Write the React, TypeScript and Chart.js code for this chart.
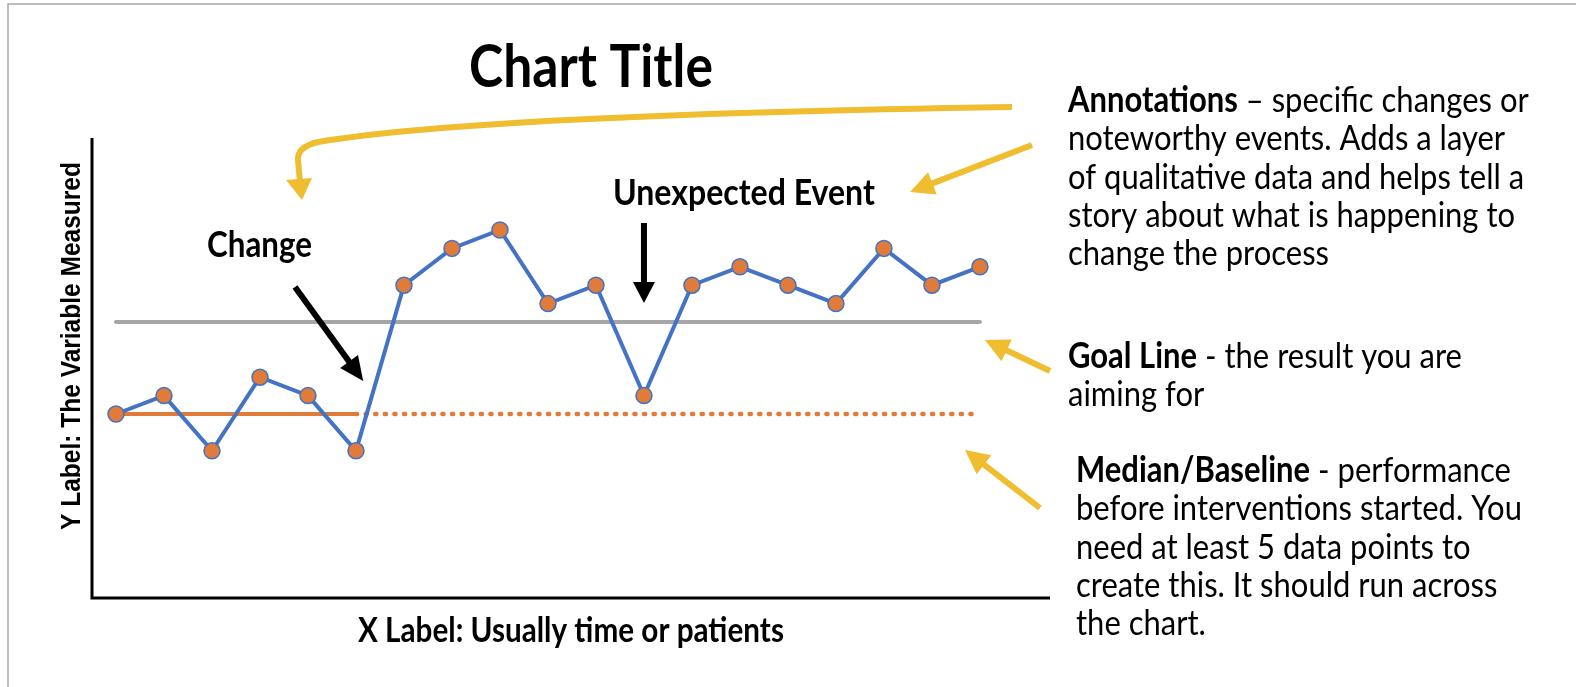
import React, { useEffect, useRef } from "react";
import { Chart, registerables } from "chart.js";

Chart.register(...registerables);

// ---- data ----
const categories = [1, 2, 3, 4, 5, 6, 7, 8, 9, 10, 11, 12, 13, 14, 15, 16, 17, 18, 19];
const measured = [2, 3, 0, 4, 3, 0, 9, 11, 12, 8, 9, 3, 9, 10, 9, 8, 11, 9, 10];
const goalValue = 7;
const baselineValue = 2;
const changeIndex = 5; // baseline solid up to here, projected (dotted) afterwards
const eventIndex = 11; // unexpected event

const chartTitle = "Chart Title";
const xLabel = "X Label: Usually time or patients";
const yLabel = "Y Label: The Variable Measured";
const changeLabel = "Change";
const eventLabel = "Unexpected Event";

type Seg = { t: string; b?: boolean };
const annotationLines: Seg[][] = [
  [{ t: "Annotations", b: true }, { t: " \u2013 specific changes or" }],
  [{ t: "noteworthy events. Adds a layer" }],
  [{ t: "of qualitative data and helps tell a" }],
  [{ t: "story about what is happening to" }],
  [{ t: "change the process" }],
];
const goalLines: Seg[][] = [
  [{ t: "Goal Line", b: true }, { t: " - the result you are" }],
  [{ t: "aiming for" }],
];
const medianLines: Seg[][] = [
  [{ t: "Median/Baseline", b: true }, { t: " - performance" }],
  [{ t: "before interventions started. You" }],
  [{ t: "need at least 5 data points to" }],
  [{ t: "create this. It should run across" }],
  [{ t: "the chart." }],
];

const BLUE = "#4472C4";
const ORANGE = "#E07B39";
const GRAY = "#A6A6A6";
const YELLOW = "#EFBD2F";
const CAL = "Lato, 'Open Sans', sans-serif";
const ARIAL = "'Liberation Sans', Arial, sans-serif";

function fitSize(ctx: CanvasRenderingContext2D, text: string, weight: string, family: string, target: number) {
  ctx.font = `${weight} 100px ${family}`;
  const w = ctx.measureText(text).width;
  return (100 * target) / w;
}

// draw text fitted to a target width, stretched vertically by k (narrower glyphs, like Calibri)
function drawFitted(
  ctx: CanvasRenderingContext2D, text: string, x: number, y: number,
  weight: string, family: string, target: number, k: number, align: CanvasTextAlign
) {
  const size = fitSize(ctx, text, weight, family, target) * k;
  ctx.save();
  ctx.translate(x, y);
  ctx.scale(1 / k, 1);
  ctx.font = `${weight} ${size}px ${family}`;
  ctx.textAlign = align;
  ctx.textBaseline = "alphabetic";
  ctx.fillText(text, 0, 0);
  ctx.restore();
}

function richWidth(ctx: CanvasRenderingContext2D, segs: Seg[], size: number) {
  let w = 0;
  for (const s of segs) {
    ctx.font = `${s.b ? "bold" : "normal"} ${size}px ${CAL}`;
    w += ctx.measureText(s.t).width;
  }
  return w;
}

function drawRich(ctx: CanvasRenderingContext2D, segs: Seg[], x: number, y: number, size: number, k: number) {
  ctx.save();
  ctx.translate(x, y);
  ctx.scale(1 / k, 1);
  let cx = 0;
  ctx.textAlign = "left";
  ctx.textBaseline = "alphabetic";
  for (const s of segs) {
    ctx.font = `${s.b ? "bold" : "normal"} ${size * k}px ${CAL}`;
    ctx.fillText(s.t, cx, 0);
    cx += ctx.measureText(s.t).width;
  }
  ctx.restore();
}

function arrow(
  ctx: CanvasRenderingContext2D,
  x1: number, y1: number, x2: number, y2: number,
  color: string, lw: number, headLen: number, headW: number
) {
  const ang = Math.atan2(y2 - y1, x2 - x1);
  const bx = x2 - Math.cos(ang) * headLen;
  const by = y2 - Math.sin(ang) * headLen;
  ctx.save();
  ctx.strokeStyle = color;
  ctx.fillStyle = color;
  ctx.lineWidth = lw;
  ctx.lineCap = "butt";
  ctx.beginPath();
  ctx.moveTo(x1, y1);
  ctx.lineTo(bx + Math.cos(ang) * 2, by + Math.sin(ang) * 2);
  ctx.stroke();
  const px = -Math.sin(ang) * headW / 2;
  const py = Math.cos(ang) * headW / 2;
  ctx.beginPath();
  ctx.moveTo(x2, y2);
  ctx.lineTo(bx + px, by + py);
  ctx.lineTo(bx - px, by - py);
  ctx.closePath();
  ctx.fill();
  ctx.restore();
}

const decorPlugin = {
  id: "decor",
  beforeDraw(chart: any) {
    const ctx: CanvasRenderingContext2D = chart.ctx;
    ctx.save();
    ctx.fillStyle = "#ffffff";
    ctx.fillRect(0, 0, chart.width, chart.height);
    ctx.strokeStyle = "#A8A8A8";
    ctx.lineWidth = 1.5;
    ctx.beginPath();
    ctx.moveTo(8, chart.height);
    ctx.lineTo(8, 4);
    ctx.lineTo(chart.width, 4);
    ctx.stroke();
    ctx.restore();
  },
  beforeDatasetsDraw(chart: any) {
    const ctx: CanvasRenderingContext2D = chart.ctx;
    const a = chart.chartArea;
    ctx.save();
    ctx.strokeStyle = "#000";
    ctx.lineWidth = 3;
    ctx.beginPath();
    ctx.moveTo(a.left, a.top);
    ctx.lineTo(a.left, a.bottom);
    ctx.lineTo(a.right, a.bottom);
    ctx.stroke();
    ctx.restore();
  },
  afterDraw(chart: any) {
    const ctx: CanvasRenderingContext2D = chart.ctx;
    const xs = chart.scales.x;
    const ys = chart.scales.y;
    ctx.save();
    ctx.fillStyle = "#000";

    // Title
    drawFitted(ctx, chartTitle, 591, 87, "bold", CAL, 244, 1.15, "center");

    // X label
    drawFitted(ctx, xLabel, 358, 642, "bold", CAL, 426, 1.15, "left");

    // Y label (rotated)
    ctx.save();
    ctx.translate(80, 346);
    ctx.rotate(-Math.PI / 2);
    drawFitted(ctx, yLabel, 0, 0, "bold", ARIAL, 368, 1.15, "center");
    ctx.restore();

    // Change label + arrow
    drawFitted(ctx, changeLabel, 207, 257, "bold", CAL, 105, 1.15, "left");
    const chX = xs.getPixelForValue(changeIndex + 0.15);
    arrow(ctx, 295, 287, chX, 381, "#000", 6, 24, 22);

    // Unexpected event label + arrow
    drawFitted(ctx, eventLabel, 613, 205, "bold", CAL, 262, 1.15, "left");
    const evX = xs.getPixelForValue(eventIndex);
    arrow(ctx, evX, 223, evX, 303, "#000", 6, 21, 22);

    // Yellow curved arrow
    ctx.save();
    ctx.strokeStyle = YELLOW;
    ctx.fillStyle = YELLOW;
    ctx.lineWidth = 6;
    ctx.lineCap = "butt";
    ctx.lineJoin = "round";
    ctx.beginPath();
    ctx.moveTo(1012, 107);
    ctx.quadraticCurveTo(480, 115, 318, 142);
    ctx.quadraticCurveTo(297, 147, 298, 160);
    ctx.lineTo(300, 182);
    ctx.stroke();
    ctx.beginPath();
    ctx.moveTo(286, 180);
    ctx.lineTo(312, 178);
    ctx.lineTo(302, 200);
    ctx.closePath();
    ctx.fill();
    ctx.restore();

    // Yellow straight arrows
    arrow(ctx, 1032, 145, 910, 192, YELLOW, 6, 24, 24);
    const goalY = ys.getPixelForValue(goalValue);
    arrow(ctx, 1050, 371, 985, goalY + 18, YELLOW, 6, 24, 24);
    const baseY = ys.getPixelForValue(baselineValue);
    arrow(ctx, 1040, 508, 965, baseY + 36, YELLOW, 6, 24, 24);

    // Right-hand explanations
    ctx.fillStyle = "#000";
    const refW = richWidth(ctx, annotationLines[0], 100);
    const size = (100 * 461) / refW;
    const lh = 38.3;
    const k = 1.15;
    annotationLines.forEach((l, i) => drawRich(ctx, l, 1068, 112 + i * lh, size, k));
    goalLines.forEach((l, i) => drawRich(ctx, l, 1068, 368 + i * lh, size, k));
    medianLines.forEach((l, i) => drawRich(ctx, l, 1076, 482 + i * lh, size, k));

    ctx.restore();
  },
};

export default function App() {
  const ref = useRef<HTMLCanvasElement | null>(null);
  useEffect(() => {
    if (!ref.current) return;
    const n = measured.length;
    const chart = new Chart(ref.current, {
      type: "line",
      data: {
        labels: categories,
        datasets: [
          {
            label: "Measured",
            data: measured.map((v, i) => ({ x: i, y: v })),
            borderColor: BLUE,
            borderWidth: 4,
            pointBackgroundColor: ORANGE,
            pointBorderColor: BLUE,
            pointBorderWidth: 1.5,
            pointRadius: 8,
            tension: 0,
          },
          {
            label: "Baseline",
            data: [{ x: 0, y: baselineValue }, { x: changeIndex, y: baselineValue }],
            borderColor: ORANGE,
            borderWidth: 4,
            pointRadius: 0,
          },
          {
            label: "Baseline extended",
            data: [{ x: changeIndex, y: baselineValue }, { x: n - 1, y: baselineValue }],
            borderColor: ORANGE,
            borderWidth: 4.5,
            borderDash: [1.2, 8.4],
            borderCapStyle: "round",
            pointRadius: 0,
          },
          {
            label: "Goal",
            data: [{ x: 0, y: goalValue }, { x: n - 1, y: goalValue }],
            borderColor: GRAY,
            borderWidth: 4,
            borderCapStyle: "round",
            pointRadius: 0,
          },
        ] as any,
      },
      options: {
        animation: false,
        responsive: false,
        events: [],
        layout: { padding: { left: 92, top: 138, right: 526, bottom: 89 } },
        scales: {
          x: { type: "linear", min: -0.5, max: 19.46, display: false },
          y: { min: -8, max: 17, display: false },
        },
        plugins: { legend: { display: false }, tooltip: { enabled: false }, title: { display: false } },
      },
      plugins: [decorPlugin],
    } as any);
    return () => chart.destroy();
  }, []);
  return (
    <div style={{ position: "fixed", left: 0, top: 0, width: 1576, height: 687, background: "#fff" }}>
      <canvas ref={ref} width={1576} height={687} style={{ width: 1576, height: 687, display: "block" }} />
    </div>
  );
}
